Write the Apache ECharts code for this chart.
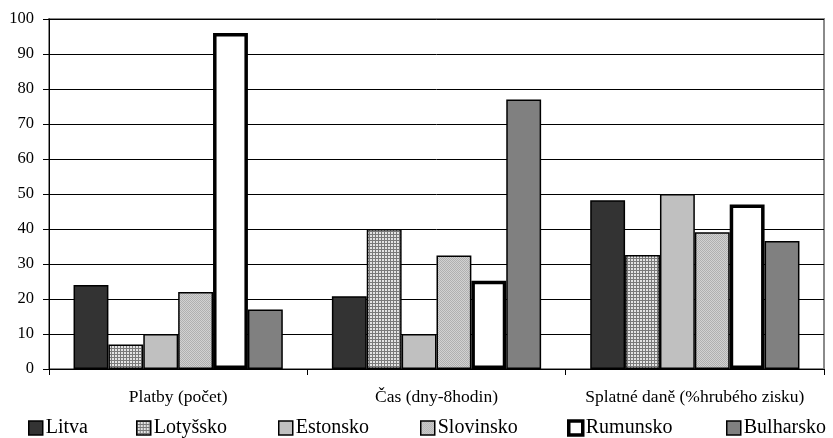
<!DOCTYPE html>
<html><head><meta charset="utf-8">
<script src="https://cdn.jsdelivr.net/npm/echarts@6/dist/echarts.min.js"></script>
<style>html,body{margin:0;padding:0;background:#fff}#c{width:833px;height:438px}</style>
</head><body><div id="c"></div>
<script>
const categories = ['Platby (počet)', 'Čas (dny-8hodin)', 'Splatné daně (%hrubého zisku)'];
const seriesNames = ['Litva', 'Lotyšsko', 'Estonsko', 'Slovinsko', 'Rumunsko', 'Bulharsko'];
const litva = [24, 20.8, 48.2];
const lotyssko = [7, 40, 32.6];
const estonsko = [10, 10, 50];
const slovinsko = [22, 32.4, 39.1];
const rumunsko = [96, 25.2, 47];
const bulharsko = [17, 77, 36.6];
const yTicks = [0, 10, 20, 30, 40, 50, 60, 70, 80, 90, 100];

function pat(draw, w, h) {
  const c = document.createElement('canvas'); c.width = w; c.height = h;
  const g = c.getContext('2d'); draw(g);
  return { image: c, repeat: 'repeat' };
}
const gridPat = pat(g => {
  g.fillStyle = '#e4e4e4'; g.fillRect(0, 0, 3, 3);
  g.fillStyle = '#7a7a7a'; g.fillRect(0, 0, 3, 1); g.fillRect(0, 0, 1, 3);
}, 3, 3);
const dotPat = pat(g => {
  g.fillStyle = '#d2d2d2'; g.fillRect(0, 0, 2, 2);
  g.fillStyle = '#b0b0b0'; g.fillRect(0, 0, 1, 1); g.fillRect(1, 1, 1, 1);
}, 2, 2);

const fills = ['#333333', gridPat, '#c0c0c0', dotPat, '#ffffff', '#808080'];
const borders = [1.5, 1.5, 1.5, 1.5, 3.5, 1.5];
const legendBorders = [1.5, 1.5, 1.5, 1.5, 3.5, 1.5];
const dataArr = [litva, lotyssko, estonsko, slovinsko, rumunsko, bulharsko];
const legendLeft = [28, 136, 278, 420, 567, 726];
const font = '"Liberation Serif", "Times New Roman", serif';

const chart = echarts.init(document.getElementById('c'));
chart.setOption({
  animation: false,
  grid: { left: 49, right: 9, top: 19, bottom: 69, show: true, borderColor: '#8a8a8a', borderWidth: 2, backgroundColor: 'transparent' },
  legend: seriesNames.map((n, i) => ({
    data: [n], left: legendLeft[i], top: 418, itemWidth: 14, itemHeight: 14, itemGap: 3,
    icon: 'rect', padding: 0,
    itemStyle: { borderColor: '#000', borderWidth: legendBorders[i] },
    textStyle: { fontFamily: font, fontSize: 20, color: '#000', padding: [0, 0, 0, -2] }
  })),
  xAxis: {
    type: 'category', data: categories,
    axisLine: { lineStyle: { color: '#000', width: 1 } },
    axisTick: { show: true, interval: 0, length: 6, lineStyle: { color: '#000' } },
    axisLabel: { interval: 0, hideOverlap: false, fontFamily: font, fontSize: 17.5, color: '#000', margin: 19 }
  },
  yAxis: {
    type: 'value', min: 0, max: 100, interval: 10,
    axisLine: { show: true, lineStyle: { color: '#000', width: 1 } },
    axisTick: { show: true, length: 6, lineStyle: { color: '#000' } },
    axisLabel: { fontFamily: font, fontSize: 16.5, color: '#000', margin: 15,
      formatter: v => yTicks.includes(v) ? String(v) : '' },
    splitLine: { show: true, lineStyle: { color: '#000', width: 1 } }
  },
  series: seriesNames.map((n, i) => ({
    name: n, type: 'bar', data: dataArr[i], barGap: '0%', barCategoryGap: '19%',
    itemStyle: { color: fills[i], borderColor: '#000', borderWidth: borders[i] }
  }))
});
</script></body></html>
